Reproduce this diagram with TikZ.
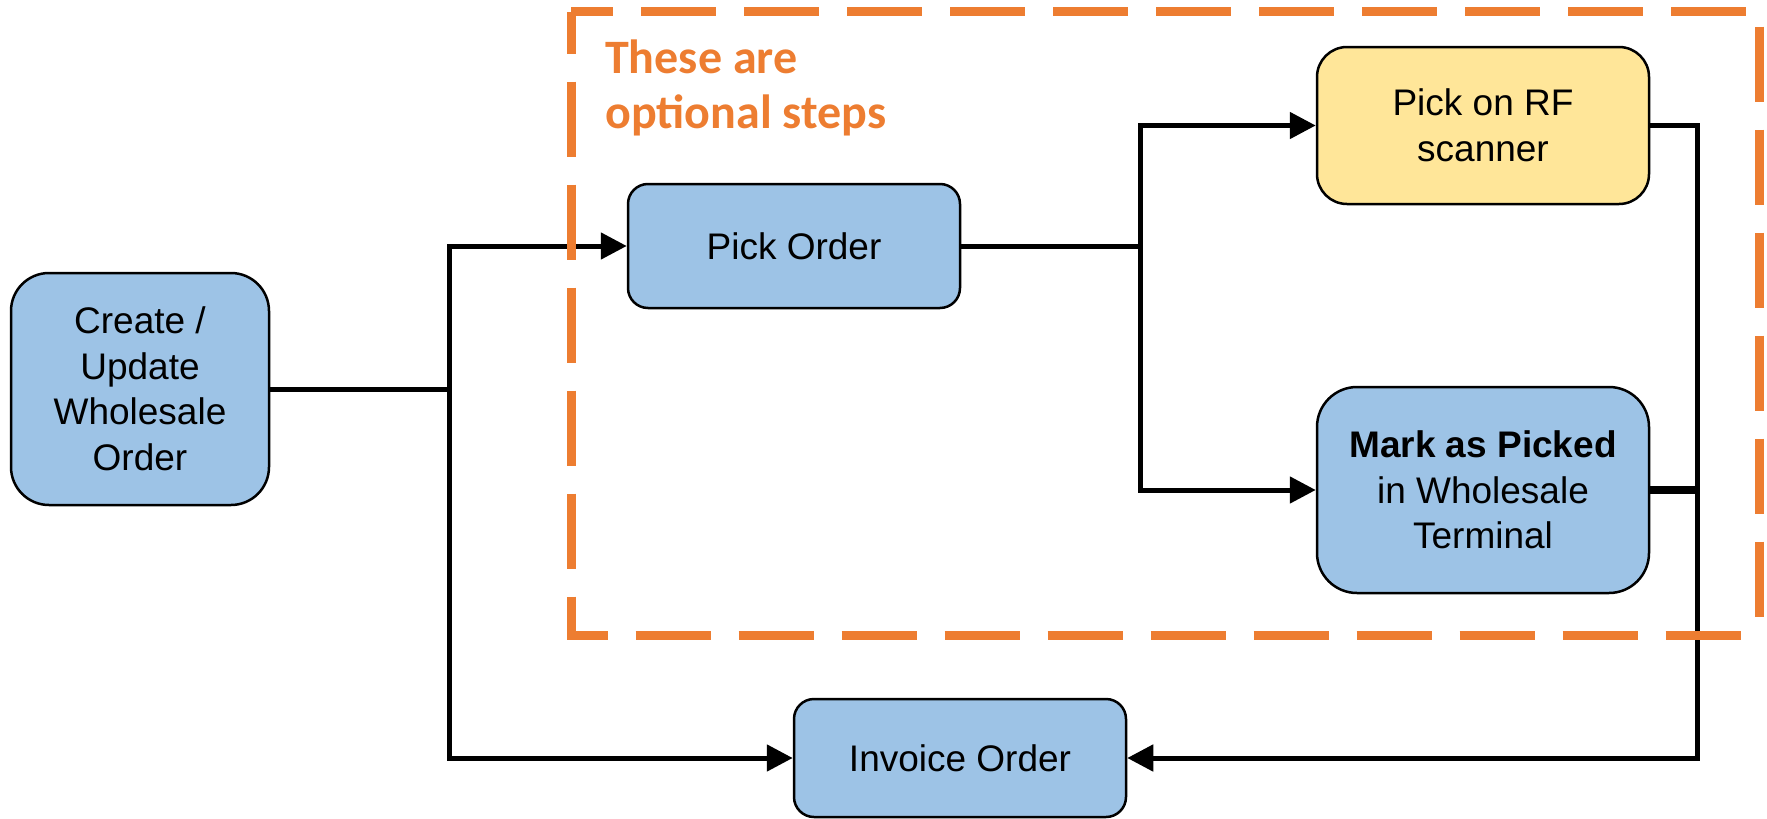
\documentclass[tikz,border=0pt]{standalone}
\usepackage{fontspec}
\setmainfont{Liberation Sans}
\newfontfamily\notefont{Carlito}
\usetikzlibrary{arrows.meta}
\definecolor{stepblue}{HTML}{9DC3E6}
\definecolor{stepyellow}{HTML}{FFE699}
\definecolor{noteorange}{HTML}{ED7D31}
\tikzset{
  stepbox/.style={draw=black, line width=2.5pt, fill=stepblue, align=center,
    minimum width=332pt, inner sep=0pt,
    font=\fontsize{37}{45.5}\selectfont},
  conn/.style={draw=black, line width=5pt},
  arr/.style={conn, -{Triangle[length=26pt,width=26pt]}},
  optframe/.style={draw=noteorange, line width=9pt,
    dash pattern=on 75pt off 28pt, dash phase=33pt}
}
\begin{document}
\begin{tikzpicture}[x=1pt,y=-1pt]
\useasboundingbox (0,0) rectangle (1767,819);

% process steps
\node[stepbox, minimum width=258pt, minimum height=232pt, rounded corners=38pt]
  (create) at (140,389) {Create /\\Update\\Wholesale\\Order};
\node[stepbox, minimum height=124pt, rounded corners=20pt]
  (pick) at (794,246) {Pick Order};
\node[stepbox, fill=stepyellow, minimum height=157pt, rounded corners=30pt]
  (rf) at (1483,125.5) {Pick on RF\\scanner};
\node[stepbox, minimum height=206pt, rounded corners=40pt]
  (mark) at (1483,490) {\textbf{Mark as Picked}\\in Wholesale\\Terminal};
\node[stepbox, minimum height=118pt, rounded corners=20pt]
  (invoice) at (960,758) {Invoice Order};

% junction points
\coordinate (ja) at (449,389);
\coordinate (jb) at (1140,246);
\coordinate (jc) at (1697,490);

% connectors
\draw[conn] (create.east) -- (ja);
\draw[arr] (ja) |- (pick.west);
\draw[arr] (ja) |- (invoice.west);
\draw[conn] (pick.east) -- (jb);
\draw[arr] (jb) |- (rf.west);
\draw[arr] (jb) |- (mark.west);
\draw[conn, line width=8pt] (mark.east) -- (jc);
\draw[arr] (rf.east) -| (jc) |- (invoice.east);

% frame around the optional steps
\draw[optframe] (571,11.5) -- (1759,11.5) -- (1759,635);
\draw[optframe] (571,11.5) -- (571,635) -- (1759,635);
\node[anchor=base west, inner sep=0pt, text=noteorange,
  font=\notefont\bfseries\fontsize{48}{55}\selectfont, align=left]
  (note) at (605,128) {These are\\optional steps};
\end{tikzpicture}
\end{document}
